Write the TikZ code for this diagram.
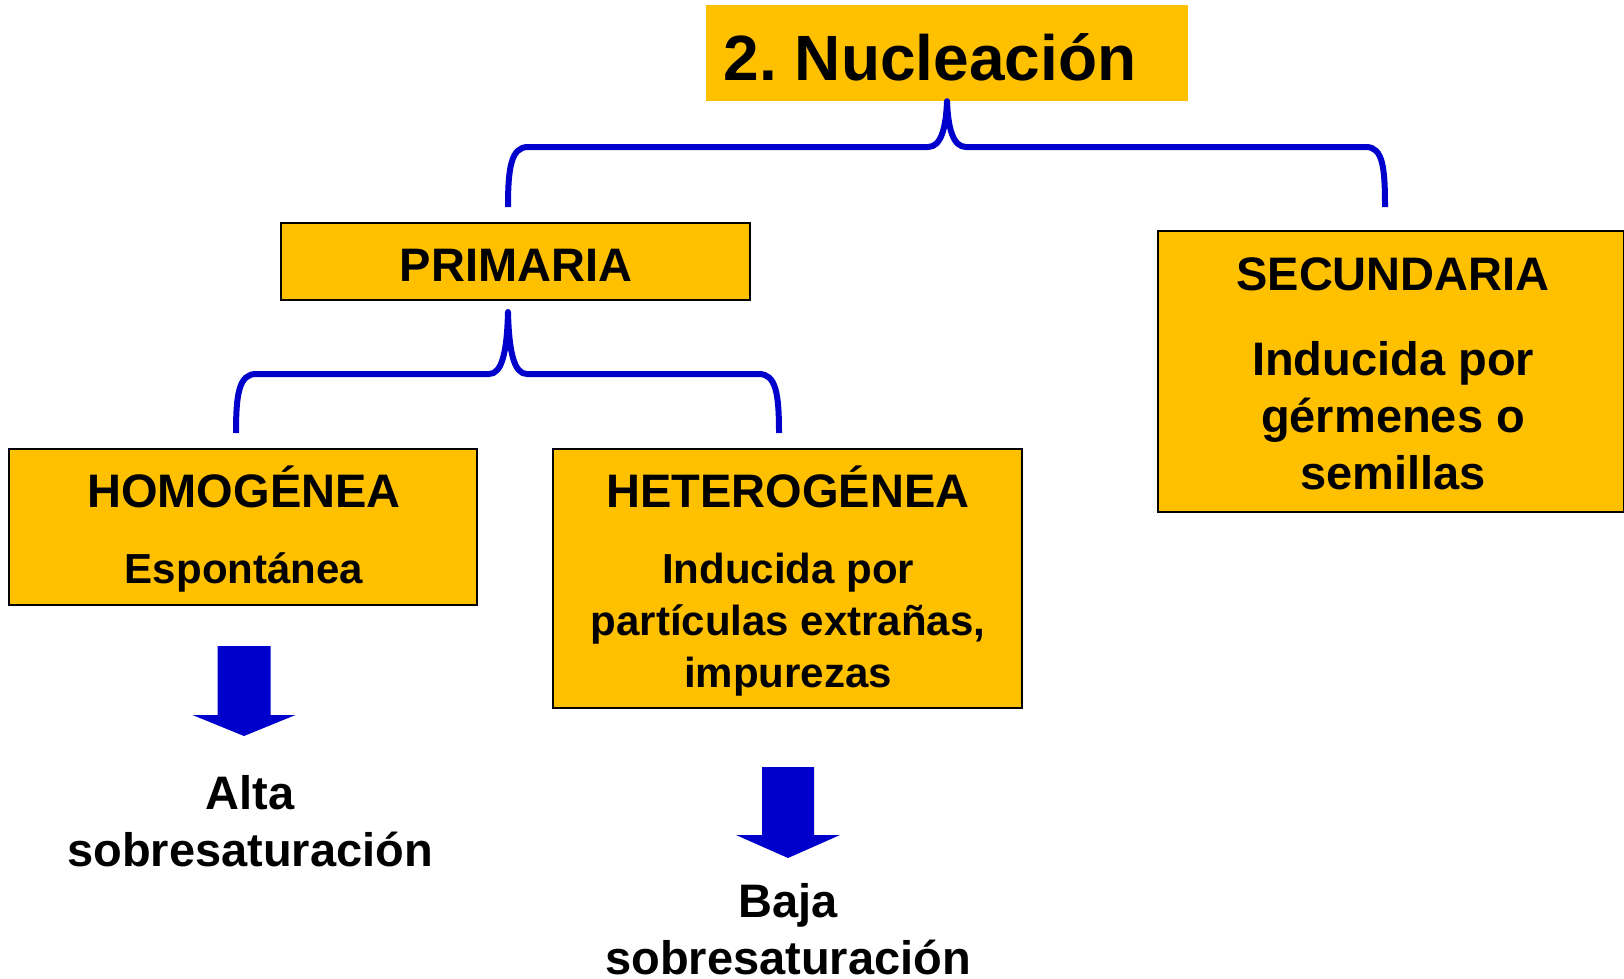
\documentclass[tikz,border=0pt]{standalone}
\usepackage{fontspec}
\setmainfont{Liberation Sans}
\frenchspacing
\definecolor{boxgold}{RGB}{255,192,0}
\definecolor{braceblue}{RGB}{0,0,204}

\begin{document}
\begin{tikzpicture}[
  x=1pt, y=-1pt,
  every node/.style={inner sep=0pt},
  goldbox/.style={rectangle, fill=boxgold, draw=black, line width=1.5pt},
  titletext/.style={anchor=base, font=\fontsize{64}{72}\selectfont\bfseries},
  headtext/.style={anchor=base, font=\fontsize{47}{56}\selectfont\bfseries},
  bodytext/.style={anchor=base, align=center, font=\fontsize{42}{52}\selectfont\bfseries},
  bigtext/.style={anchor=base, align=center, font=\fontsize{47}{57}\selectfont\bfseries},
  brace/.style={draw=braceblue, line width=6pt, line join=round},
  downarrow/.style={fill=braceblue},
]
\useasboundingbox (0,0) rectangle (1624,978);

% ---- boxes ----
\node[rectangle, fill=boxgold, minimum width=482, minimum height=96] (title) at (947,53) {};
\node[goldbox, minimum width=469, minimum height=77]  (primaria) at (515.5,261.5) {};
\node[goldbox, minimum width=466, minimum height=281] (secundaria) at (1391,371.5) {};
\node[goldbox, minimum width=468, minimum height=156] (homog) at (243,527) {};
\node[goldbox, minimum width=469, minimum height=259] (hetero) at (787.5,578.5) {};

% ---- texts (multi-line ones sit on their last line) ----
\node[titletext] (titlelbl) at (930,80) {2. Nucleación};
\node[headtext] (primlbl) at (516,281) {PRIMARIA};
\node[headtext] (seclbl) at (1393,290) {SECUNDARIA};
\node[bigtext] (secbody) at (1393,489) {Inducida por\\gérmenes o\\semillas};
\node[headtext] (homlbl) at (244,507) {HOMOGÉNEA};
\node[bodytext] (hombody) at (244,583) {Espontánea};
\node[headtext] (hetlbl) at (788,507) {HETEROGÉNEA};
\node[bodytext] (hetbody) at (788,687) {Inducida por\\partículas extrañas,\\impurezas};
\node[bigtext] (alta) at (250,866) {Alta\\sobresaturación};
\node[bigtext] (baja) at (788,974) {Baja\\sobresaturación};

% ---- brace ends ----
\coordinate (tipA) at (title.south);
\coordinate (endAl) at (508,207);
\coordinate (endAr) at (1385,207);
\coordinate (tipB) at (508,312);
\coordinate (endBl) at (236,433);
\coordinate (endBr) at (779,433);

% ---- braces ----
\draw[brace] (endAl) .. controls (508,168) and (511,147) .. (528,147) -- (928,147)
  .. controls (941,147) and (946,128) .. (tipA)
  .. controls (948,128) and (953,147) .. (966,147) -- (1366,147)
  .. controls (1383,147) and (1385,168) .. (endAr);
\draw[brace] (endBl) .. controls (236,394) and (239,374) .. (256,374) -- (489,374)
  .. controls (502,374) and (507,352) .. (tipB)
  .. controls (509,352) and (514,374) .. (527,374) -- (759,374)
  .. controls (776,374) and (779,394) .. (endBr);

% ---- block arrows ----
\coordinate (arrL) at (244,646);
\coordinate (arrR) at (788,767);
\fill[downarrow] (arrL) ++(-26.5,0) -- ++(53,0) -- ++(0,69) -- ++(25,0)
  -- ++(-51.5,21) -- ++(-51.5,-21) -- ++(25,0) -- cycle;
\fill[downarrow] (arrR) ++(-26,0) -- ++(52,0) -- ++(0,68) -- ++(26,0)
  -- ++(-52,23) -- ++(-52,-23) -- ++(26,0) -- cycle;

\end{tikzpicture}
\end{document}
